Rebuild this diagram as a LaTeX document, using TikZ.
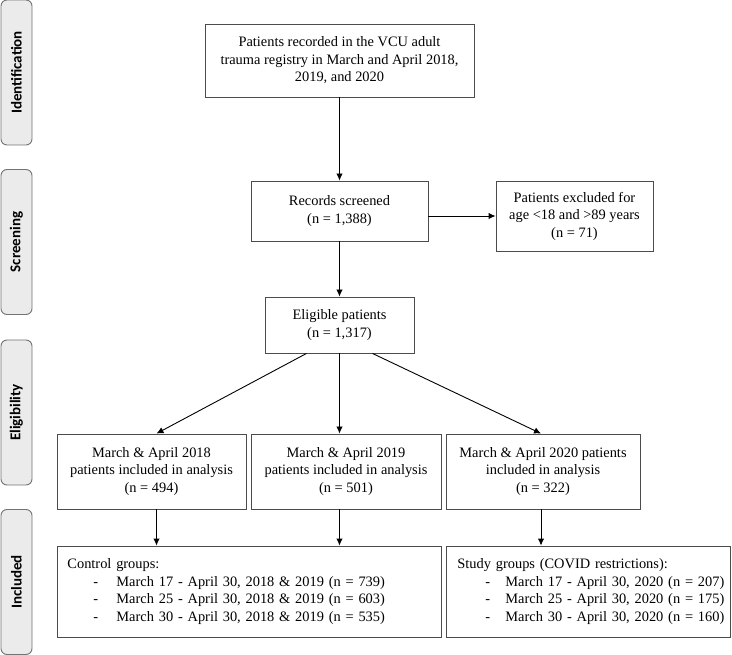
\documentclass[tikz,border=0pt]{standalone}
\usepackage{fontspec}
\setmainfont{Liberation Serif}
\newfontfamily\phasefont{Carlito}
\usetikzlibrary{arrows.meta}

\begin{document}
\begin{tikzpicture}
    [ x=1pt, y=-1pt
    , every node/.style={font=\fontsize{14.4}{17.5}\selectfont}
    , box/.style={draw=black!70,line width=0.9pt,align=center,inner sep=0pt}
    , phase/.style={draw=black!55,fill=black!8,line width=0.9pt,rounded corners=6pt,
        rotate=90,minimum width=145pt,minimum height=31pt,inner sep=0pt,
        font=\phasefont\bfseries\fontsize{15}{18}\selectfont}
    , arr/.style={-{Latex[length=7pt,width=6.5pt]},line width=0.9pt}
    ]

    \useasboundingbox (0,0) rectangle (732,655);

    % phases on the left
    \node [phase] (ident) at (16.5, 72.5)  {Identification};
    \node [phase] (scr)   at (16.5, 242)   {Screening};
    \node [phase] (elg)   at (16.5, 412.5) {Eligibility};
    \node [phase] (incl)  at (16.5, 582)   {Included};

    % main flow
    \node [box, minimum width=269pt, minimum height=73pt] (reg) at (339.5, 60.5)
        {Patients recorded in the VCU adult\\ trauma registry in March and April 2018,\\ 2019, and 2020};
    \node [box, minimum width=177pt, minimum height=60pt] (rec) at (339.5, 211)
        {Records screened\\ (n = 1,388)};
    \node [box, minimum width=157pt, minimum height=70pt] (excl) at (574.5, 216)
        {Patients excluded for\\ age <18 and >89 years\\ (n = 71)};
    \node [box, minimum width=149pt, minimum height=56pt] (elig) at (339.5, 325)
        {Eligible patients\\ (n = 1,317)};

    \node [box, minimum width=189pt, minimum height=75pt] (y18) at (151.5, 471.5)
        {March \& April 2018\\ patients included in analysis\\ (n = 494)};
    \node [box, minimum width=190pt, minimum height=75pt] (y19) at (346, 471.5)
        {March \& April 2019\\ patients included in analysis\\ (n = 501)};
    \node [box, minimum width=194pt, minimum height=75pt] (y20) at (543, 471.5)
        {March \& April 2020 patients\\ included in analysis\\ (n = 322)};

    \node [box, align=left, anchor=west, minimum width=384pt, minimum height=91pt,
           text width=364pt] (ctrl) at (57, 591.5)
        {Control groups:\\
         \hspace*{26pt}\makebox[23pt][l]{-}March 17 - April 30, 2018 \& 2019 (n = 739)\\
         \hspace*{26pt}\makebox[23pt][l]{-}March 25 - April 30, 2018 \& 2019 (n = 603)\\
         \hspace*{26pt}\makebox[23pt][l]{-}March 30 - April 30, 2018 \& 2019 (n = 535)};
    \node [box, align=left, anchor=west, minimum width=284pt, minimum height=91pt,
           text width=280pt] (study) at (446, 591.5)
        {\hspace*{9pt}Study groups (COVID restrictions):\\
         \hspace*{37pt}\makebox[20pt][l]{-}March 17 - April 30, 2020 (n = 207)\\
         \hspace*{37pt}\makebox[20pt][l]{-}March 25 - April 30, 2020 (n = 175)\\
         \hspace*{37pt}\makebox[20pt][l]{-}March 30 - April 30, 2020 (n = 160)};

    % arrows
    \draw [arr] (reg) -- (rec);
    \draw [arr] (rec.east |- excl.west) -- (excl.west);
    \draw [arr] (rec) -- (elig);
    \draw [arr] ([xshift=-33pt]elig.south) -- ([xshift=5pt]y18.north);
    \draw [arr] (elig.south) -- (elig.south |- y19.north);
    \draw [arr] ([xshift=33pt]elig.south) -- ([xshift=-2pt]y20.north);
    \draw [arr] ([xshift=5pt]y18.south) -- ([xshift=5pt]y18.south |- ctrl.north);
    \draw [arr] (elig.south |- y19.south) -- (elig.south |- ctrl.north);
    \draw [arr] ([xshift=-2pt]y20.south) -- ([xshift=-2pt]y20.south |- study.north);
\end{tikzpicture}
\end{document}
